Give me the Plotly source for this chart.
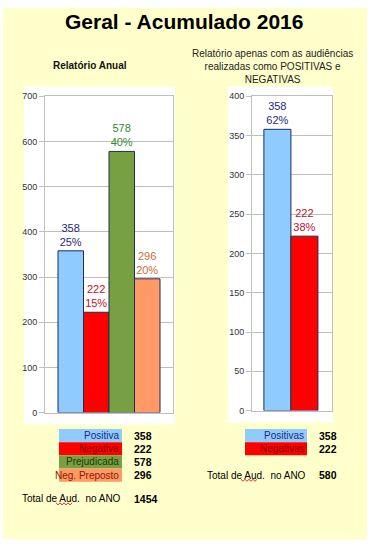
import plotly.graph_objects as go

# ---------------- data ----------------
cats_annual = ["Positiva", "Negativa", "Prejudicada", "Neg. Preposto"]
vals_annual = [358, 222, 578, 296]
cats_pn = ["Positivas", "Negativas"]
vals_pn = [358, 222]

bar_colors_annual = ["#8FCBFF", "#FF0000", "#77A043", "#FF9966"]
label_colors_annual = ["#1F2A7A", "#C0102A", "#2E8B2E", "#D2693A"]
bar_colors_pn = ["#8FCBFF", "#FF0000"]
label_colors_pn = ["#1F2A7A", "#C0102A"]
legend_text_annual = ["#1F2A7A", "#8B0000", "#1F3A00", "#8B1A00"]
legend_text_pn = ["#1F2A7A", "#8B0000"]

total_annual = sum(vals_annual)
total_pn = sum(vals_pn)

W, H = 379, 556
def px(x): return x / W
def py(y): return 1 - y / H

FONT = "Liberation Sans, Arial, sans-serif"

def labels(vals, tot):
    return [f"{v}<br>{round(100 * v / tot)}%" for v in vals]

fig = go.Figure()
fig.add_trace(go.Bar(
    x=cats_annual, y=vals_annual, width=1,
    marker=dict(color=bar_colors_annual, line=dict(color="#1F2F4F", width=1)),
    text=labels(vals_annual, total_annual), textposition="outside",
    textfont=dict(color=label_colors_annual, size=11, family=FONT),
    constraintext="none", cliponaxis=False, xaxis="x", yaxis="y",
    hoverinfo="x+y", showlegend=False))
fig.add_trace(go.Bar(
    x=cats_pn, y=vals_pn, width=1,
    marker=dict(color=bar_colors_pn, line=dict(color="#1F2F4F", width=1)),
    text=labels(vals_pn, total_pn), textposition="outside",
    textfont=dict(color=label_colors_pn, size=11, family=FONT),
    constraintext="none", cliponaxis=False, xaxis="x2", yaxis="y2",
    hoverinfo="x+y", showlegend=False))

shapes = [
    dict(type="rect", xref="paper", yref="paper", x0=px(3), x1=px(367), y0=py(544), y1=py(3),
         fillcolor="#FFFFCC", line=dict(width=0), layer="below"),
    dict(type="rect", xref="paper", yref="paper", x0=px(24), x1=px(175), y0=py(427), y1=py(83),
         fillcolor="#FFFFFF", line=dict(width=0), layer="below"),
    dict(type="rect", xref="paper", yref="paper", x0=px(228), x1=px(333), y0=py(425), y1=py(83),
         fillcolor="#FFFFFF", line=dict(width=0), layer="below"),
]

annotations = [
    dict(text="<b>Geral - Acumulado 2016</b>", x=px(184), y=py(17), xref="paper", yref="paper",
         showarrow=False, font=dict(size=21, color="#000000", family=FONT), xanchor="center", yanchor="middle"),
    dict(text="<b>Relatório Anual</b>", x=px(90), y=py(62), xref="paper", yref="paper",
         showarrow=False, font=dict(size=10, color="#111111", family=FONT), xanchor="center", yanchor="middle"),
    dict(text="Relatório apenas com as audiências<br>realizadas como POSITIVAS e<br>NEGATIVAS",
         x=px(272), y=py(63), xref="paper", yref="paper", showarrow=False,
         font=dict(size=10, color="#222222", family=FONT), xanchor="center", yanchor="middle"),
]

def squiggle(x0, x1, y):
    pts = []
    x = x0
    up = True
    while x <= x1:
        pts.append(f"{px(x)},{py(y - 1 if up else y + 1)}")
        up = not up
        x += 2
    return dict(type="path", xref="paper", yref="paper", path="M" + " L".join(pts),
                line=dict(color="#E03030", width=1))

def table(cats, vals, bcols, tcols, box_x0, box_x1, val_x, row_y0, row_h, tot, tot_x, tot_y):
    for i, (c, v) in enumerate(zip(cats, vals)):
        yc = row_y0 + i * row_h
        shapes.append(dict(type="rect", xref="paper", yref="paper", x0=px(box_x0), x1=px(box_x1),
                           y0=py(yc + row_h / 2), y1=py(yc - row_h / 2),
                           fillcolor=bcols[i], line=dict(width=0)))
        annotations.append(dict(text=c, x=px(box_x1 - 1), y=py(yc), xref="paper", yref="paper",
                                showarrow=False, xanchor="right", yanchor="middle",
                                font=dict(size=10, color=tcols[i], family=FONT)))
        annotations.append(dict(text=f"<b>{v}</b>", x=px(val_x), y=py(yc), xref="paper", yref="paper",
                                showarrow=False, xanchor="left", yanchor="middle",
                                font=dict(size=10.5, color="#000000", family=FONT)))
    annotations.append(dict(text="Total de Aud.&nbsp;&nbsp;no ANO", x=px(tot_x), y=py(tot_y), xref="paper",
                            yref="paper", showarrow=False, xanchor="left", yanchor="middle",
                            font=dict(size=10, color="#000000", family=FONT)))
    annotations.append(dict(text=f"<b>{tot}</b>", x=px(val_x), y=py(tot_y), xref="paper", yref="paper",
                            showarrow=False, xanchor="left", yanchor="middle",
                            font=dict(size=10.5, color="#000000", family=FONT)))
    shapes.append(squiggle(tot_x + 36, tot_x + 52, tot_y + 5))

table(cats_annual, vals_annual, bar_colors_annual, legend_text_annual, 59, 122, 132, 438.5, 13.4,
      total_annual, 20, 503)
table(cats_pn, vals_pn, bar_colors_pn, legend_text_pn, 245, 307, 317, 438.5, 13.4,
      total_pn, 205, 479)

axis_common = dict(showgrid=True, gridcolor="#BFBFBF", gridwidth=1, ticks="outside", ticklen=5,
                   tickcolor="#BFBFBF", tickfont=dict(size=9, color="#333333", family=FONT),
                   showline=True, linecolor="#BFBFBF", mirror=True, zeroline=False, fixedrange=True)
xaxis_common = dict(showticklabels=False, ticks="", showgrid=False, showline=True, linecolor="#BFBFBF",
                    mirror=True, zeroline=False, fixedrange=True)

fig.update_layout(
    width=W, height=H, margin=dict(l=0, r=0, t=0, b=0),
    paper_bgcolor="#FFFFFF", plot_bgcolor="#FFFFFF",
    font=dict(family=FONT),
    xaxis=dict(domain=[px(45), px(173)], range=[-1.01, 4.01], anchor="y", **xaxis_common),
    yaxis=dict(domain=[py(415), py(93)], range=[0, 700], dtick=100, anchor="x", **axis_common),
    xaxis2=dict(domain=[px(252), px(332)], range=[-0.94, 2.02], anchor="y2", **xaxis_common),
    yaxis2=dict(domain=[py(413), py(93)], range=[0, 400], dtick=50, anchor="x2", **axis_common),
    shapes=shapes, annotations=annotations,
)

fig.write_html("out.html", config={"displayModeBar": False},
               post_script="document.body.style.margin='0';document.body.style.padding='0';"
                           "document.body.style.overflow='hidden';")
